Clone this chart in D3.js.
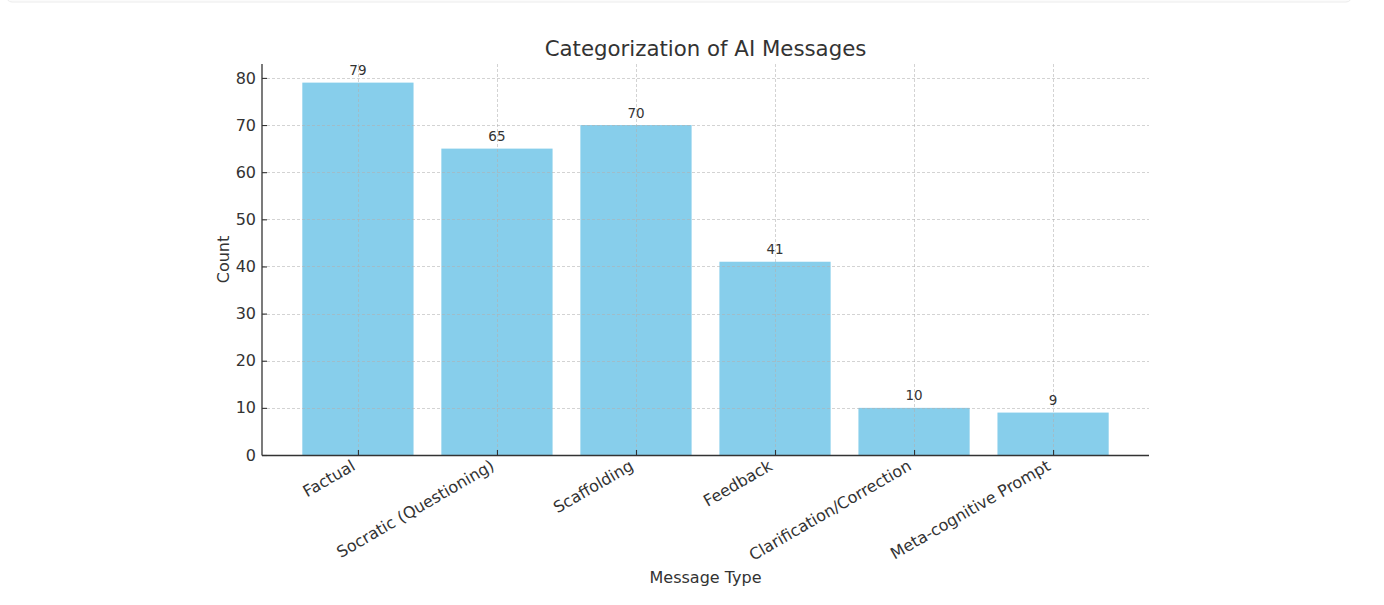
<!DOCTYPE html>
<html><head><meta charset="utf-8">
<script src="https://cdn.jsdelivr.net/npm/d3@7"></script>
<style>body{margin:0;background:#fff;} svg{display:block;font-family:"DejaVu Sans",sans-serif;}</style>
</head><body>
<script>
const categories = ["Factual","Socratic (Questioning)","Scaffolding","Feedback","Clarification/Correction","Meta-cognitive Prompt"];
const counts = [79,65,70,41,10,9];
const yTicks = [0,10,20,30,40,50,60,70,80];
const title = "Categorization of AI Messages";
const xLabel = "Message Type";
const yLabel = "Count";

const W=1384,H=605;
const L=262,R=1149,T=64,B=455;
const svg=d3.select("body").append("svg").attr("width",W).attr("height",H);
// faint container top edge
svg.append("rect").attr("x",6).attr("y",-10).attr("width",1346).attr("height",12).attr("rx",6)
  .attr("fill","#fbfbfb").attr("stroke","#ececec");

const x=d3.scaleLinear().domain([-0.69,categories.length-1+0.69]).range([L,R]);
const y=d3.scaleLinear().domain([0,82.95]).range([B,T]);
const bw=x(0.8)-x(0);
const col="#333333";

// bars
svg.selectAll("rect.bar").data(counts).join("rect").attr("class","bar")
  .attr("x",(d,i)=>x(i)-bw/2).attr("width",bw).attr("y",d=>y(d)).attr("height",d=>y(0)-y(d))
  .attr("fill","#87CEEB");

// grid on top
const g=svg.append("g");
g.selectAll("line.hg").data(yTicks).join("line").attr("x1",L).attr("x2",R)
  .attr("y1",d=>Math.round(y(d))+0.5).attr("y2",d=>Math.round(y(d))+0.5)
  .attr("stroke","#b0b0b0").attr("stroke-opacity",0.7).attr("stroke-dasharray","3,2").attr("stroke-width",0.8);
g.selectAll("line.vg").data(categories).join("line").attr("y1",T).attr("y2",B)
  .attr("x1",(d,i)=>Math.round(x(i))+0.5).attr("x2",(d,i)=>Math.round(x(i))+0.5)
  .attr("stroke","#b0b0b0").attr("stroke-opacity",0.7).attr("stroke-dasharray","3,2").attr("stroke-width",0.8);

// axes
const ya=svg.append("g").attr("transform",`translate(${L},0)`)
  .call(d3.axisLeft(y).tickValues(yTicks).tickSizeInner(-5).tickSizeOuter(0).tickPadding(6));
ya.select(".domain").remove();
const xa=svg.append("g").attr("transform",`translate(0,${B})`)
  .call(d3.axisBottom(x).tickValues(d3.range(categories.length)).tickFormat(i=>categories[i]).tickSizeInner(-5).tickSizeOuter(0));
xa.select(".domain").remove();
[ya,xa].forEach(a=>{a.selectAll("line").attr("stroke",col).attr("stroke-width",1.1);
  a.selectAll("text").attr("fill",col).style("font-size","16px").style("font-family","DejaVu Sans");});
xa.selectAll("text").attr("text-anchor","end").attr("dy",null).attr("y",null)
  .attr("transform","translate(-2,14) rotate(-30)");

svg.append("line").attr("x1",L).attr("x2",L).attr("y1",T).attr("y2",B+0.5).attr("stroke",col).attr("stroke-width",1.3);
svg.append("line").attr("x1",L).attr("x2",R).attr("y1",B+0.5).attr("y2",B+0.5).attr("stroke",col).attr("stroke-width",1.3);

// value labels
svg.selectAll("text.val").data(counts).join("text").attr("class","val")
  .attr("x",(d,i)=>x(i)).attr("y",d=>y(d)-7.5).attr("text-anchor","middle")
  .attr("fill",col).style("font-size","13.5px").text(d=>d);

svg.append("text").attr("x",(L+R)/2).attr("y",56).attr("text-anchor","middle").attr("fill",col)
  .style("font-size","21.3px").text(title);
svg.append("text").attr("x",(L+R)/2).attr("y",583).attr("text-anchor","middle").attr("fill",col)
  .style("font-size","16px").text(xLabel);
svg.append("text").attr("transform",`translate(229,${(T+B)/2}) rotate(-90)`).attr("text-anchor","middle").attr("fill",col)
  .style("font-size","16px").text(yLabel);
</script>
</body></html>
